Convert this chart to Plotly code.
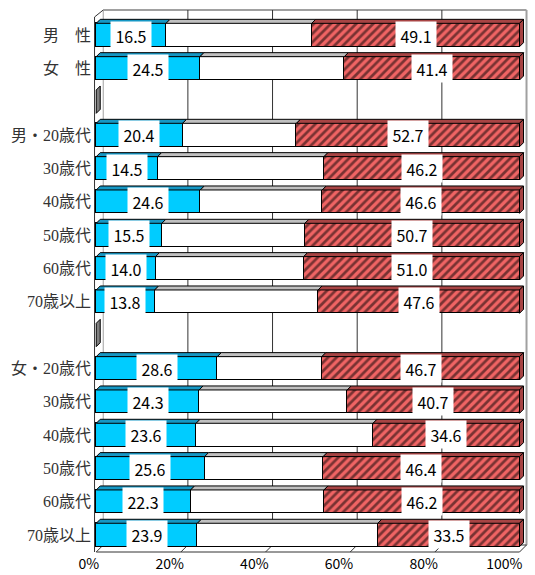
import plotly.graph_objects as go

labels = ["男　性", "女　性", "", "男・20歳代", "30歳代", "40歳代", "50歳代", "60歳代", "70歳以上",
          "", "女・20歳代", "30歳代", "40歳代", "50歳代", "60歳代", "70歳以上"]
blue = [16.5, 24.5, None, 20.4, 14.5, 24.6, 15.5, 14.0, 13.8, None, 28.6, 24.3, 23.6, 25.6, 22.3, 23.9]
red = [49.1, 41.4, None, 52.7, 46.2, 46.6, 50.7, 51.0, 47.6, None, 46.7, 40.7, 34.6, 46.4, 46.2, 33.5]
x_ticks = [0, 20, 40, 60, 80, 100]
x_ticktext = ["0%", "20%", "40%", "60%", "80%", "100%"]

rows = list(range(len(labels)))
white = [None if b is None else round(100 - b - r, 1) for b, r in zip(blue, red)]

BLUE = "#00CCFF"
BLUE_TOP = "#1597C4"
GRAY_TOP = "#C0C0C0"
RED = "#F06464"
RED_TOP = "#A84444"

W, H = 535, 575
px_x = 4.24      # px per % unit
px_y = 33.33     # px per row
x0_px = 96
row0_px = 35
xr = [-1.0, 102.0]
yr_top = -(row0_px - 8) / px_y
yr_bot = 15 + (553 - (row0_px + 15 * px_y)) / px_y
ml = x0_px + xr[0] * px_x
mr = W - (x0_px + xr[1] * px_x)
mt = 8
mb = H - 553

bw = 0.7
dx, dy = 4 / px_x, 4 / px_y          # bar depth
dxw, dyw = 7 / px_x, 7 / px_y        # wall depth
ftop = -(row0_px - 17) / px_y
fbot = 15 + (552 - (row0_px + 15 * px_y)) / px_y

fig = go.Figure()
line = dict(color="black", width=1)
fig.add_trace(go.Bar(y=rows, x=blue, orientation="h", width=bw,
                     marker=dict(color=BLUE, line=line), hoverinfo="skip"))
fig.add_trace(go.Bar(y=rows, x=white, orientation="h", width=bw,
                     marker=dict(color="white", line=line), hoverinfo="skip"))
fig.add_trace(go.Bar(y=rows, x=red, orientation="h", width=bw,
                     marker=dict(color=RED, line=line,
                                 pattern=dict(shape="/", fgcolor="black", bgcolor=RED,
                                              size=6, solidity=0.45)),
                     hoverinfo="skip"))

shapes = []
GL = "#333333"
WALL = "#A0A0A0"
# back wall frame
shapes.append(dict(type="line", xref="x", yref="y", x0=dxw, x1=100 + dxw, y0=ftop - dyw, y1=ftop - dyw,
                   line=dict(color=WALL, width=2), layer="below"))
shapes.append(dict(type="line", xref="x", yref="y", x0=100 + dxw, x1=100 + dxw, y0=ftop - dyw, y1=fbot - dyw,
                   line=dict(color=WALL, width=2), layer="below"))
shapes.append(dict(type="line", xref="x", yref="y", x0=dxw, x1=dxw, y0=ftop - dyw, y1=fbot - dyw,
                   line=dict(color=WALL, width=1), layer="below"))
# gridlines on back wall
for v in x_ticks[1:-1]:
    shapes.append(dict(type="line", xref="x", yref="y", x0=v + dxw, x1=v + dxw, y0=ftop - dyw, y1=fbot - dyw,
                       line=dict(color=GL, width=1), layer="below"))
# floor
shapes.append(dict(type="line", xref="x", yref="y", x0=0, x1=100, y0=fbot, y1=fbot,
                   line=dict(color=GL, width=1), layer="below"))
shapes.append(dict(type="line", xref="x", yref="y", x0=dxw, x1=100 + dxw, y0=fbot - dyw, y1=fbot - dyw,
                   line=dict(color=GL, width=1), layer="below"))
for v in x_ticks:
    shapes.append(dict(type="line", xref="x", yref="y", x0=v, x1=v + dxw, y0=fbot, y1=fbot - dyw,
                       line=dict(color=GL, width=1), layer="below"))
# left wall
shapes.append(dict(type="line", xref="x", yref="y", x0=-0.4, x1=-0.4, y0=ftop, y1=fbot,
                   line=dict(color=GL, width=1), layer="below"))
shapes.append(dict(type="line", xref="x", yref="y", x0=-0.4, x1=dxw, y0=ftop, y1=ftop - dyw,
                   line=dict(color=GL, width=1), layer="below"))

# 3D faces for bars
annotations = []
lab_font = dict(family="Noto Sans CJK JP", size=16, color="black")
for i, (b, w, r) in enumerate(zip(blue, white, red)):
    top = i - bw / 2
    bot = i + bw / 2
    if b is None:
        shapes.append(dict(type="path", xref="x", yref="y",
                           path=f"M 0,{bot} L 0,{top} L {dx},{top - dy} L {dx},{bot - dy} Z",
                           fillcolor="#7F7F7F", line=dict(color="black", width=1)))
        continue
    segs = [(0, b, BLUE_TOP), (b, b + w, GRAY_TOP), (b + w, 100, RED_TOP)]
    for a, c, col in segs:
        shapes.append(dict(type="path", xref="x", yref="y",
                           path=f"M {a},{top} L {c},{top} L {c + dx},{top - dy} L {a + dx},{top - dy} Z",
                           fillcolor=col, line=dict(color="black", width=1)))
    shapes.append(dict(type="path", xref="x", yref="y",
                       path=f"M 100,{top} L {100 + dx},{top - dy} L {100 + dx},{bot - dy} L 100,{bot} Z",
                       fillcolor=RED_TOP, line=dict(color="black", width=1)))
    annotations.append(dict(x=b / 2, y=i, xref="x", yref="y", text=f"{b:.1f}", showarrow=False,
                            bgcolor="white", width=40, height=27, borderpad=0, font=lab_font))
    annotations.append(dict(x=100 - r / 2, y=i, xref="x", yref="y", text=f"{r:.1f}", showarrow=False,
                            bgcolor="white", width=40, height=27, borderpad=0, font=lab_font))

fig.update_layout(
    width=W, height=H,
    margin=dict(l=ml, r=mr, t=mt, b=mb, pad=0, autoexpand=False),
    barmode="stack", bargap=0,
    showlegend=False,
    plot_bgcolor="white", paper_bgcolor="white",
    shapes=shapes, annotations=annotations,
    xaxis=dict(range=xr, tickvals=x_ticks, ticktext=x_ticktext, showgrid=False, zeroline=False,
               showline=False, ticks="", ticklabelposition="outside left", ticklabelshift=3,
               ticklabelstandoff=1, automargin=False,
               tickfont=dict(family="Noto Sans CJK JP", size=14, color="black")),
    yaxis=dict(range=[yr_bot, yr_top], tickvals=[i for i, l in enumerate(labels) if l],
               ticktext=[l for l in labels if l], showgrid=False, zeroline=False, showline=False,
               ticks="", automargin=False,
               tickfont=dict(family="Liberation Serif, Noto Sans CJK JP", size=16, color="#333333")),
)

fig.write_html("out.html")
